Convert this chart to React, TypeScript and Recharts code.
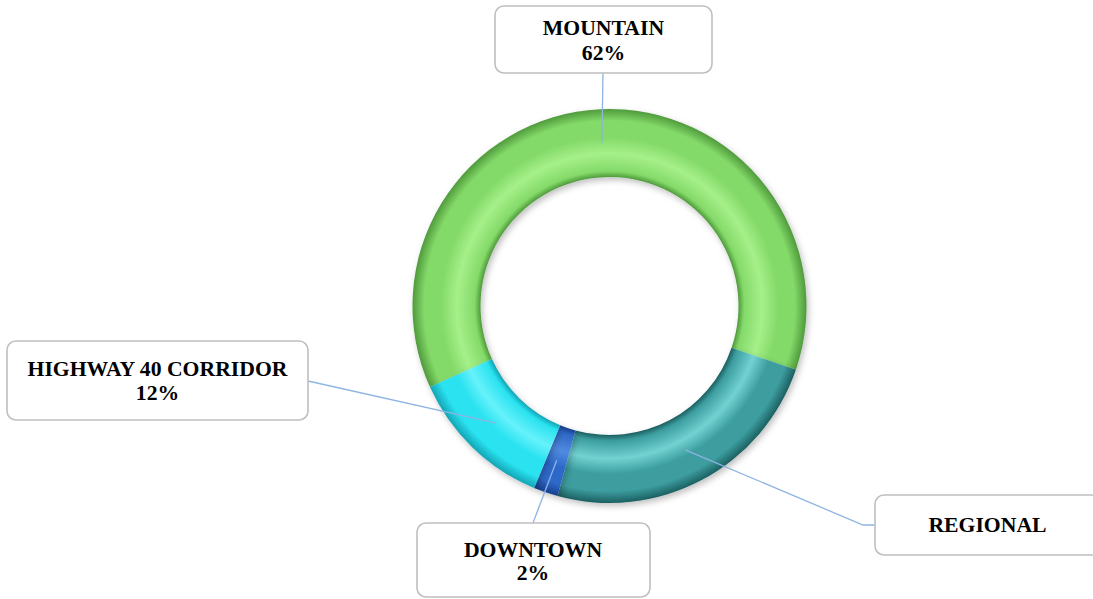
import React from "react";
import { PieChart, Pie, Cell } from "recharts";

const categories = ["MOUNTAIN", "REGIONAL", "DOWNTOWN", "HIGHWAY 40 CORRIDOR"];
const shares = [62, 24, 2, 12];
const showPercent = [true, false, true, true];

const data = categories.map((name, i) => ({ name, value: shares[i] }));

// colour palette: [dark edge, base, highlight]
const palette = [
  ["#4f9a3c", "#84da69", "#a6f08a"],
  ["#1c5f61", "#3c9d9f", "#72d2d2"],
  ["#173f8c", "#2f69c9", "#4f8be0"],
  ["#12a4b4", "#2ae2f0", "#66f2fb"],
];

// label box layout (manual placement, as in the source chart)
const labelLayout = [
  { x: 495, y: 6, w: 217, h: 67, tx: 603.5, lines: [35, 60], anchor: [[603, 73]] },
  { x: 875, y: 495, w: 225, h: 60, tx: 987.5, lines: [532], anchor: [[863, 525], [875, 525]] },
  { x: 417, y: 523, w: 233, h: 74, tx: 533, lines: [557, 580], anchor: [[533, 523]] },
  { x: 7, y: 341, w: 301, h: 79, tx: 157.5, lines: [376, 400], anchor: [[308, 381]] },
];

const CX = 609.5;
const CY = 306;
const INNER = 129;
const OUTER = 197;

const RAD = Math.PI / 180;

const renderLabel = (props: any) => {
  const { cx, cy, midAngle, innerRadius, outerRadius, index, name, percent } = props;
  const r = (innerRadius + outerRadius) / 2;
  const px = cx + r * Math.cos(-midAngle * RAD);
  const py = cy + r * Math.sin(-midAngle * RAD);
  const L = labelLayout[index];
  const pts = [[px, py], ...L.anchor].map((p) => p.join(",")).join(" ");
  const texts = showPercent[index] ? [name, `${Math.round(percent * 100)}%`] : [name];
  return (
    <g key={`lbl-${index}`}>
      <polyline points={pts} fill="none" stroke="#8db4e2" strokeWidth={1.3} />
      <rect
        x={L.x}
        y={L.y}
        width={L.w}
        height={L.h}
        rx={9}
        ry={9}
        fill="#ffffff"
        stroke="#bfbfbf"
        strokeWidth={1.6}
      />
      {texts.map((t, i) => (
        <text
          key={i}
          x={L.tx}
          y={L.lines[i]}
          textAnchor="middle"
          fontFamily="'Liberation Serif', 'Times New Roman', serif"
          fontWeight="bold"
          fontSize={21.7}
          fill="#000000"
        >
          {t}
        </text>
      ))}
    </g>
  );
};

export default function App() {
  const f = INNER / OUTER;
  return (
    <div style={{ position: "absolute", left: 0, top: 0, background: "#ffffff" }}>
      <PieChart width={1093} height={599} margin={{ top: 0, right: 0, bottom: 0, left: 0 }}>
        <defs>
          {palette.map((c, i) => (
            <radialGradient
              key={i}
              id={`ring-${i}`}
              gradientUnits="userSpaceOnUse"
              cx={CX}
              cy={CY}
              r={OUTER}
            >
              <stop offset={f} stopColor={c[0]} />
              <stop offset={f + 0.03} stopColor={c[1]} />
              <stop offset={f + 0.12} stopColor={c[2]} />
              <stop offset={f + 0.2} stopColor={c[1]} />
              <stop offset={0.94} stopColor={c[1]} />
              <stop offset={1} stopColor={c[0]} />
            </radialGradient>
          ))}
          <filter id="shadow" x="-20%" y="-20%" width="140%" height="140%">
            <feDropShadow dx="2" dy="3" stdDeviation="3" floodColor="#000" floodOpacity="0.25" />
          </filter>
        </defs>
        <Pie
          data={data}
          dataKey="value"
          nameKey="name"
          cx={CX}
          cy={CY}
          innerRadius={INNER}
          outerRadius={OUTER}
          startAngle={204.3}
          endAngle={-155.7}
          paddingAngle={0}
          stroke="none"
          isAnimationActive={false}
          label={renderLabel}
          labelLine={false}
          style={{ filter: "url(#shadow)" }}
        >
          {data.map((d, i) => (
            <Cell key={d.name} fill={`url(#ring-${i})`} stroke="none" />
          ))}
        </Pie>
      </PieChart>
    </div>
  );
}
